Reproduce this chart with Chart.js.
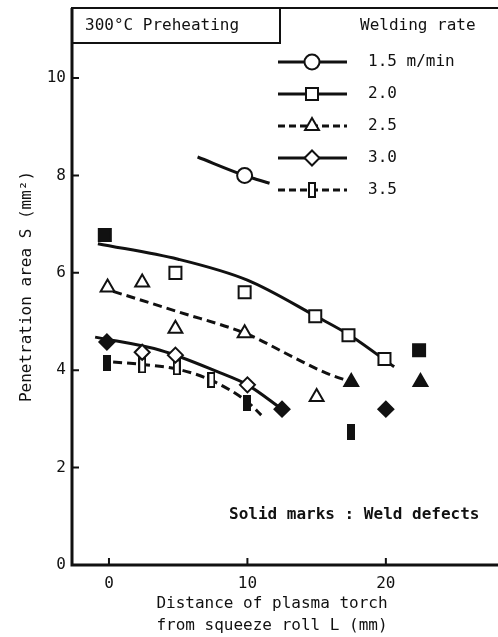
<!DOCTYPE html>
<html>
<head>
<meta charset="utf-8">
<script src="https://cdn.jsdelivr.net/npm/chart.js@4.4.0/dist/chart.umd.min.js"></script>
<style>
    html, body { margin: 0; padding: 0; background: #fff; overflow: hidden; }
    canvas { display: block; }
</style>
</head>
<body>
<canvas id="chart" width="498" height="637"></canvas>
<script>
// Welding rate series
const rateLabels = ["1.5 m/min", "2.0", "2.5", "3.0", "3.5"];
const rateMarkers = ["circle", "rect", "triangle", "rectRot", "bar"];
const rateDashed = [false, false, true, false, true];

// Measured points: L (mm), S (mm2), solid mark = weld defect
const pts15X = [9.8];
const pts15Y = [8.0];
const pts15Solid = [false];

const pts20X = [-0.3, 4.8, 9.8, 14.9, 17.3, 19.9, 22.4];
const pts20Y = [6.78, 6.0, 5.6, 5.11, 4.72, 4.23, 4.41];
const pts20Solid = [true, false, false, false, false, false, true];

const pts25X = [-0.1, 2.4, 4.8, 9.8, 15.0, 17.5, 22.5];
const pts25Y = [5.7, 5.8, 4.85, 4.76, 3.45, 3.76, 3.76];
const pts25Solid = [false, false, false, false, false, true, true];

const pts30X = [-0.15, 2.4, 4.8, 10.0, 12.5, 20.0];
const pts30Y = [4.58, 4.37, 4.31, 3.7, 3.2, 3.2];
const pts30Solid = [true, false, false, false, true, true];

const pts35X = [-0.15, 2.4, 4.9, 7.4, 10.0, 17.5];
const pts35Y = [4.15, 4.1, 4.06, 3.8, 3.33, 2.73];
const pts35Solid = [true, false, false, false, true, true];

// Hand drawn trend curves
const curve15X = [6.4, 9.8, 11.6];
const curve15Y = [8.38, 8.0, 7.84];
const curve20X = [-0.8, 5, 10, 15, 17.5, 20.6];
const curve20Y = [6.6, 6.28, 5.85, 5.1, 4.7, 4.07];
const curve25X = [0.3, 5, 10, 13.3, 15.7, 17.5];
const curve25Y = [5.62, 5.2, 4.74, 4.27, 3.94, 3.76];
const curve30X = [-1, 3.7, 8, 10, 12.5];
const curve30Y = [4.68, 4.41, 3.95, 3.7, 3.2];
const curve35X = [0.3, 2.4, 5, 7.5, 10, 11];
const curve35Y = [4.17, 4.12, 4.02, 3.78, 3.35, 3.08];

// Axis ticks
const xTicks = [0, 10, 20];
const yTicks = [0, 2, 4, 6, 8, 10];

document.addEventListener("DOMContentLoaded", function () {
    const font = '"DejaVu Sans Mono", monospace';
    const ink = "#111";

    // narrow upright bar marker for the 3.5 series
    function barMarker(filled) {
        const c = document.createElement("canvas");
        c.width = 8;
        c.height = 16;
        const g = c.getContext("2d");
        g.fillStyle = ink;
        g.fillRect(0, 0, 8, 16);
        if (!filled) {
            g.fillStyle = "#fff";
            g.fillRect(2, 2, 4, 12);
        }
        return c;
    }
    const barOpen = barMarker(false);
    const barSolid = barMarker(true);

    const markerRadius = { circle: 7.5, rect: 8.5, triangle: 8, rectRot: 7.5, bar: 8 };

    const points = [
        [pts15X, pts15Y, pts15Solid],
        [pts20X, pts20Y, pts20Solid],
        [pts25X, pts25Y, pts25Solid],
        [pts30X, pts30Y, pts30Solid],
        [pts35X, pts35Y, pts35Solid],
    ];
    const curves = [
        [curve15X, curve15Y],
        [curve20X, curve20Y],
        [curve25X, curve25Y],
        [curve30X, curve30Y],
        [curve35X, curve35Y],
    ];

    const datasets = [];
    points.forEach(([xs, ys, solid], i) => {
        const style = rateMarkers[i];
        datasets.push({
            label: rateLabels[i],
            data: xs.map((x, k) => ({ x, y: ys[k] })),
            showLine: false,
            order: 0,
            pointStyle: style === "bar" ? solid.map((s) => (s ? barSolid : barOpen)) : style,
            pointRadius: markerRadius[style],
            pointBorderWidth: 2,
            pointBorderColor: ink,
            pointBackgroundColor: solid.map((s) => (s ? ink : "#fff")),
        });
    });
    curves.forEach(([xs, ys], i) => {
        datasets.push({
            label: rateLabels[i] + " curve",
            data: xs.map((x, k) => ({ x, y: ys[k] })),
            showLine: true,
            order: 1,
            pointRadius: 0,
            borderColor: ink,
            borderWidth: 3,
            borderDash: rateDashed[i] ? [9, 5] : [],
            cubicInterpolationMode: "monotone",
        });
    });

    // frame, inward ticks, boxed note, legend and texts
    const decor = {
        id: "decor",
        beforeDatasetsDraw(chart) {
            const { ctx, chartArea: a, scales } = chart;
            ctx.save();
            ctx.strokeStyle = ink;
            ctx.lineWidth = 2;
            ctx.beginPath();
            ctx.moveTo(a.right, a.top);
            ctx.lineTo(a.left, a.top);
            ctx.stroke();
            ctx.lineWidth = 3;
            ctx.beginPath();
            ctx.moveTo(a.left, a.top);
            ctx.lineTo(a.left, a.bottom);
            ctx.lineTo(a.right, a.bottom);
            ctx.stroke();

            ctx.lineWidth = 2;
            ctx.beginPath();
            yTicks.forEach((v) => {
                const py = scales.y.getPixelForValue(v);
                ctx.moveTo(a.left, py);
                ctx.lineTo(a.left + 7, py);
            });
            xTicks.forEach((v) => {
                const px = scales.x.getPixelForValue(v);
                ctx.moveTo(px, a.bottom);
                ctx.lineTo(px, a.bottom - 7);
            });
            ctx.stroke();
            ctx.restore();
        },
        afterDraw(chart) {
            const { ctx, chartArea: a } = chart;
            ctx.save();
            ctx.fillStyle = ink;
            ctx.strokeStyle = ink;

            // preheating box
            ctx.lineWidth = 2;
            ctx.strokeRect(a.left, a.top, 208, 35);
            ctx.font = "16px " + font;
            ctx.textBaseline = "middle";
            ctx.textAlign = "left";
            ctx.fillText("300°C Preheating", 85, 26);
            ctx.fillText("Welding rate", 360, 26);

            // legend
            rateLabels.forEach((label, i) => {
                const y = 62 + i * 32;
                ctx.lineWidth = 3;
                ctx.setLineDash(rateDashed[i] ? [7, 4] : []);
                ctx.beginPath();
                ctx.moveTo(278, y);
                ctx.lineTo(347, y);
                ctx.stroke();
                ctx.setLineDash([]);
                const style = rateMarkers[i];
                ctx.fillStyle = "#fff";
                ctx.lineWidth = 2;
                Chart.helpers.drawPoint(
                    ctx,
                    {
                        pointStyle: style === "bar" ? barOpen : style,
                        radius: markerRadius[style],
                        borderWidth: 2,
                        rotation: 0,
                    },
                    312,
                    y
                );
                ctx.fillStyle = ink;
                ctx.fillText(label, 368, y);
            });

            // defect note
            ctx.font = "bold 16px " + font;
            ctx.fillText("Solid marks : Weld defects", 229, 515);

            // x axis title
            ctx.font = "16px " + font;
            ctx.textAlign = "center";
            ctx.fillText("Distance of plasma torch", 272, 604);
            ctx.fillText("from squeeze roll L (mm)", 272, 626);
            ctx.restore();
        },
    };

    new Chart(document.getElementById("chart"), {
        type: "scatter",
        data: { datasets },
        plugins: [decor],
        options: {
            responsive: false,
            animation: false,
            layout: { autoPadding: false, padding: { top: 8, right: 0, bottom: 0, left: 0 } },
            plugins: {
                legend: { display: false },
                tooltip: { enabled: false },
            },
            scales: {
                x: {
                    type: "linear",
                    min: -2.67,
                    max: 28.1,
                    afterFit: (scale) => {
                        scale.height = 72;
                        scale.paddingLeft = 0;
                        scale.paddingRight = 0;
                    },
                    afterBuildTicks: (scale) => { scale.ticks = xTicks.map((v) => ({ value: v })); },
                    grid: { display: false, drawTicks: false },
                    border: { display: false },
                    ticks: { padding: 9, color: ink, font: { family: font, size: 16 } },
                },
                y: {
                    type: "linear",
                    min: 0,
                    max: 11.44,
                    afterFit: (scale) => {
                        scale.width = 72;
                        scale.paddingTop = 0;
                        scale.paddingBottom = 0;
                    },
                    afterBuildTicks: (scale) => { scale.ticks = yTicks.map((v) => ({ value: v })); },
                    grid: { display: false, drawTicks: false },
                    border: { display: false },
                    ticks: { padding: 6, color: ink, font: { family: font, size: 16 } },
                    title: {
                        display: true,
                        text: "Penetration area S (mm²)",
                        color: ink,
                        font: { family: font, size: 16 },
                        padding: { top: 17, bottom: 0 },
                    },
                },
            },
        },
    });
});
</script>
</body>
</html>
